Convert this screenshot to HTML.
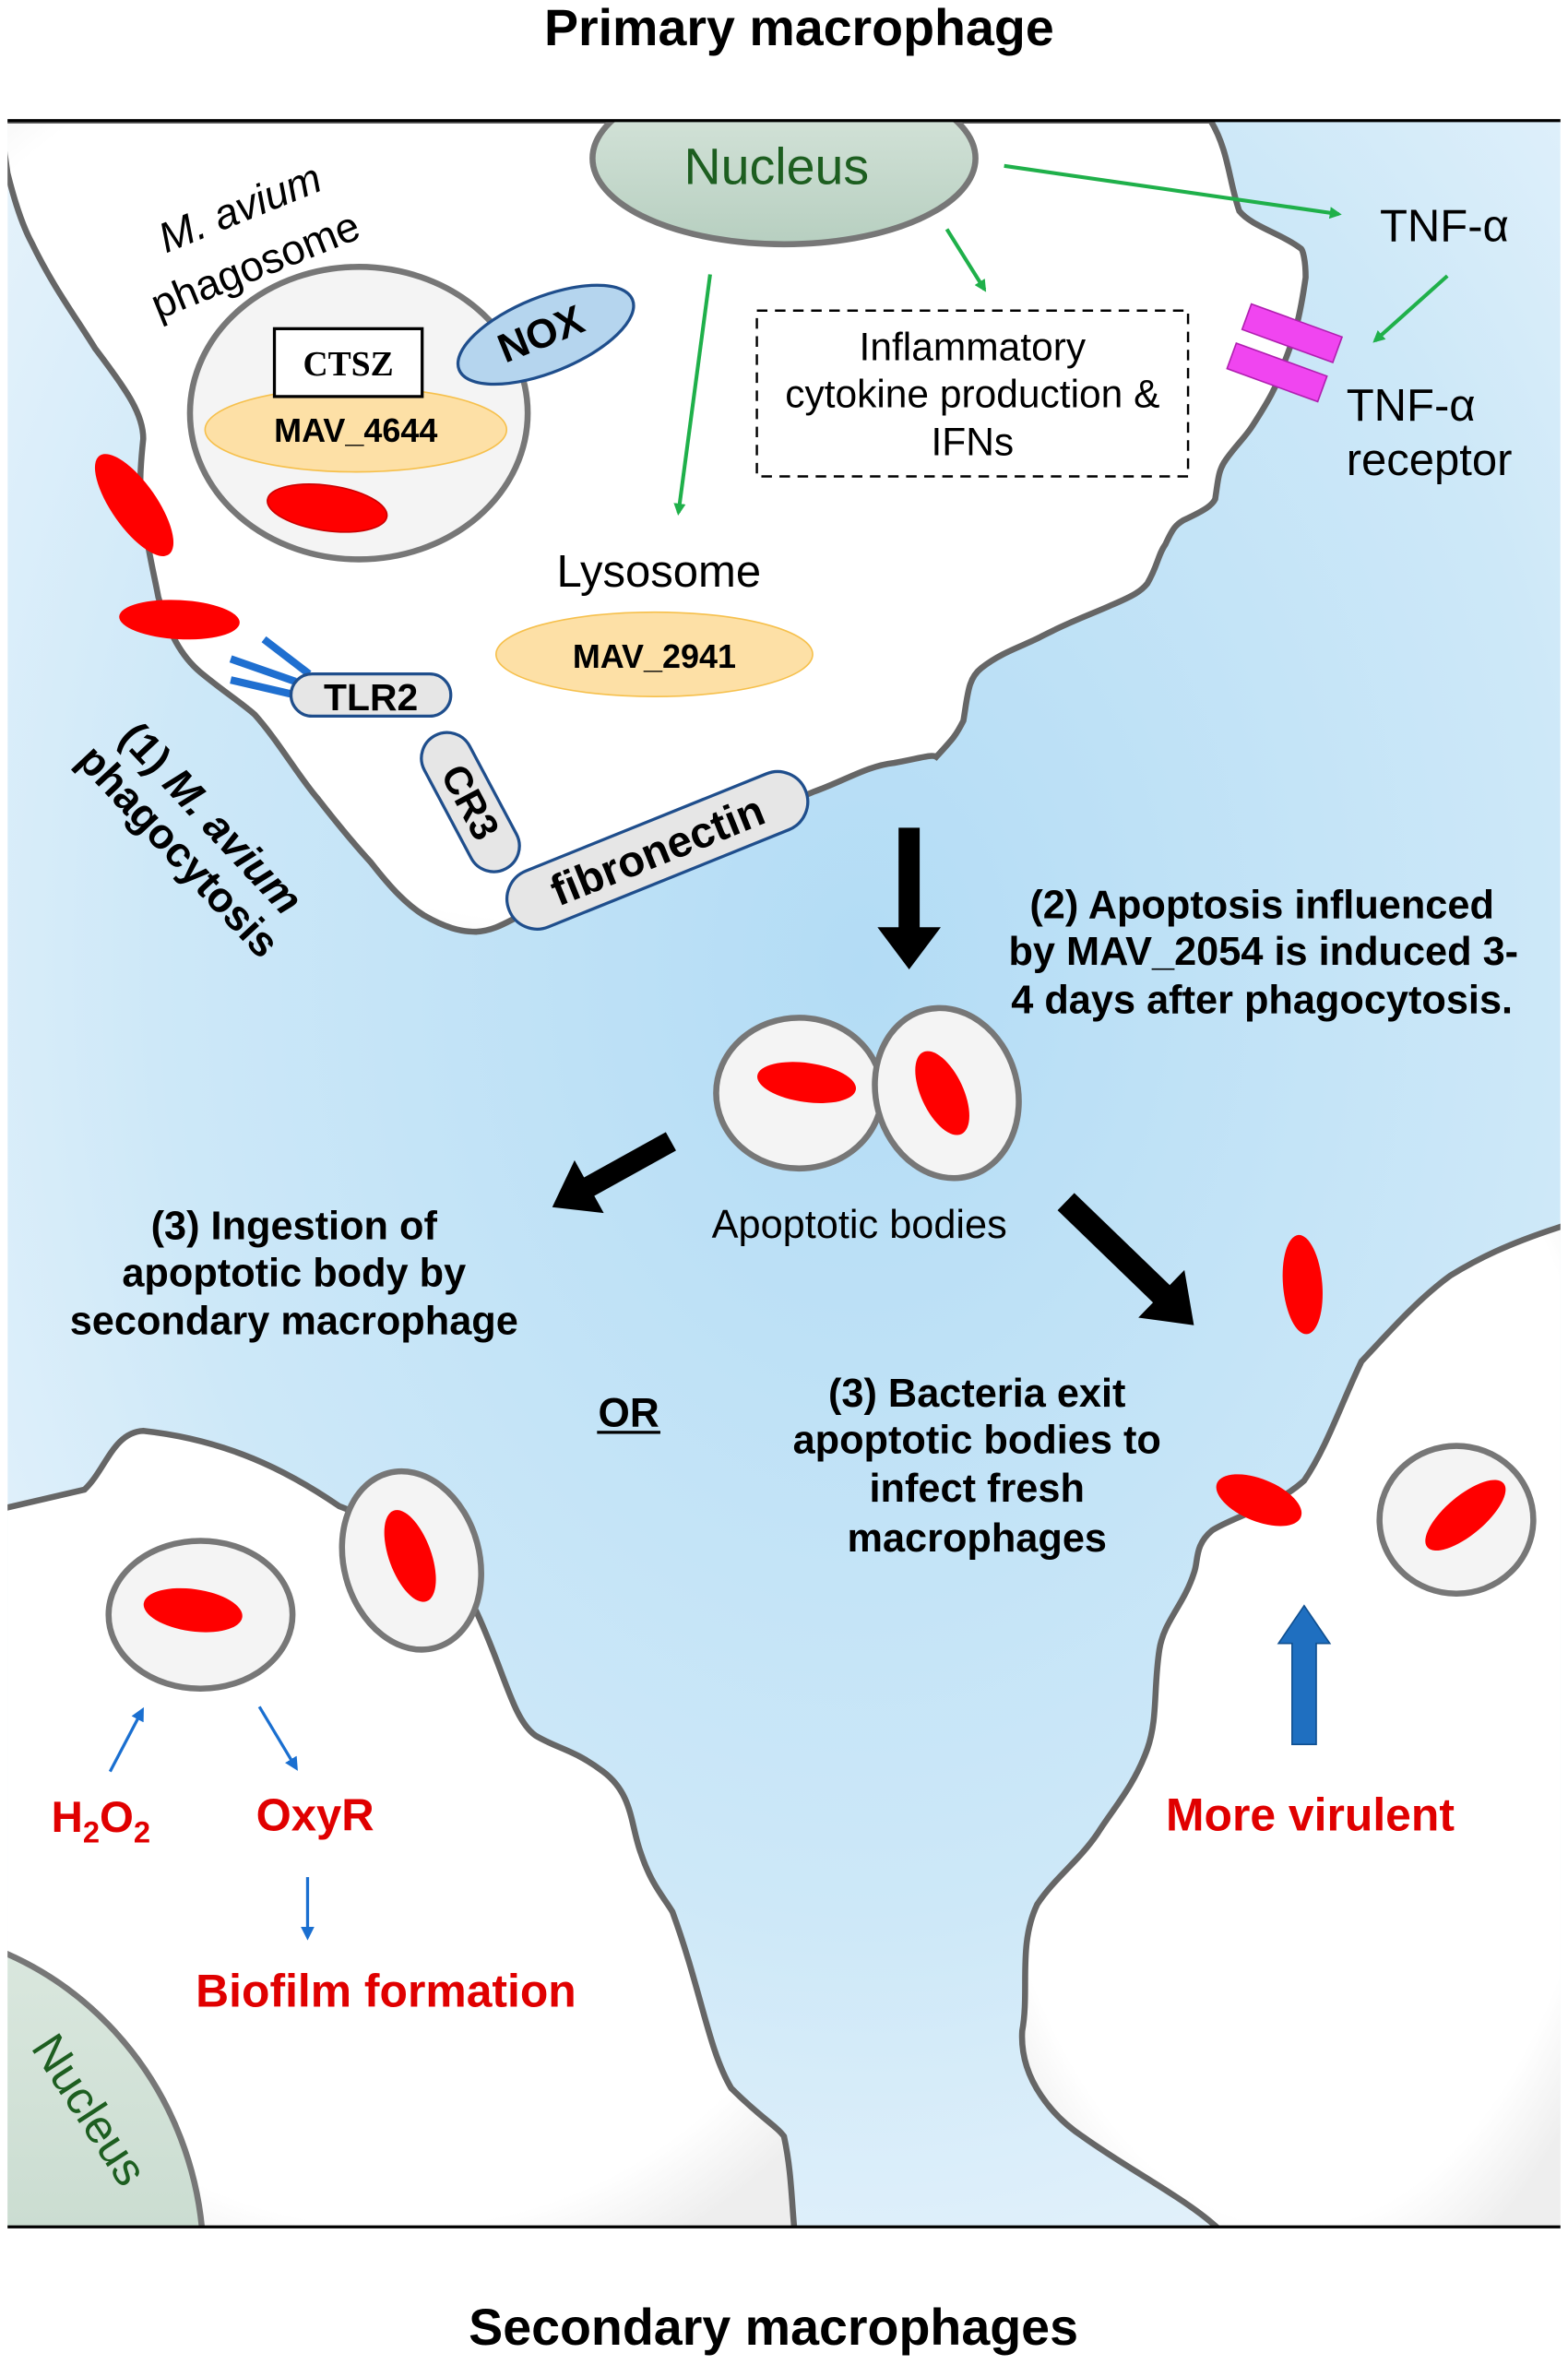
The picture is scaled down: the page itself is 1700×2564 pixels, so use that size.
<!DOCTYPE html>
<html><head><meta charset="utf-8"><style>
html,body{margin:0;padding:0;background:#fff;width:1700px;height:2564px;overflow:hidden}
svg{display:block}
text{font-family:"Liberation Sans",Arial,sans-serif}
</style></head><body>
<svg width="1700" height="2564" viewBox="0 0 1040 1568.6" xmlns="http://www.w3.org/2000/svg">
<defs>
<radialGradient id="bg" cx="0.55" cy="0.4" r="0.75">
<stop offset="0" stop-color="#b3dcf5"/><stop offset="0.6" stop-color="#cde8f8"/><stop offset="1" stop-color="#eef6fc"/>
</radialGradient>
<radialGradient id="cellg" cx="0.5" cy="0.4" r="0.7">
<stop offset="0.85" stop-color="#ffffff"/><stop offset="1" stop-color="#eeeeee"/>
</radialGradient>
<linearGradient id="nuc" x1="0" y1="0" x2="0" y2="1">
<stop offset="0" stop-color="#dbe8df"/><stop offset="1" stop-color="#b7cfc0"/>
</linearGradient>
<marker id="ag" markerWidth="8" markerHeight="8" refX="6" refY="4" orient="auto" markerUnits="userSpaceOnUse"><path d="M0,0 L8,4 L0,8 z" fill="#1fb04a"/></marker>
<marker id="ab" markerWidth="9" markerHeight="9" refX="6" refY="4.5" orient="auto" markerUnits="userSpaceOnUse"><path d="M0,0 L9,4.5 L0,9 z" fill="#1a6fd0"/></marker>
<clipPath id="frame"><rect x="5" y="80" width="1030" height="1397"/></clipPath>
<clipPath id="leftcell"><path d="M0,1001 L56,988 C70,975 75,950 95,949 C150,955 190,975 225,999 C280,1020 300,1040 316,1069 C335,1110 340,1140 355,1151 C370,1160 380,1160 400,1175 C420,1190 418,1210 425,1229 C432,1250 440,1258 446,1268 C465,1320 470,1360 485,1385 C505,1405 515,1410 520,1417 C525,1440 525,1460 527,1480 L0,1480 Z"/></clipPath>
</defs>

<text x="530" y="30" font-size="34" font-weight="bold" text-anchor="middle">Primary macrophage</text>
<text x="513" y="1555" font-size="34" font-weight="bold" text-anchor="middle">Secondary macrophages</text>

<g clip-path="url(#frame)">
<rect x="5" y="80" width="1030" height="1397" fill="url(#bg)"/>
<!-- primary cell -->
<path d="M0,80 L5,115 C10,135 15,150 21,161 C35,190 50,210 63,231 C85,260 95,275 95,291 C93,310 92,325 95,340 C98,365 102,380 105,396 C112,420 120,435 133,446 C150,460 160,466 169,474 C185,492 198,515 211,530 C225,548 235,560 246,572 C260,590 270,600 281,607 C295,615 305,618 316,618 C330,617 338,610 350,605 L540,525 C560,518 575,508 593,506 C610,503 618,500 621,502 C632,490 634,488 639,478 C642,460 642,450 651,443 C665,432 680,428 691,422 C710,412 725,407 738,401 C752,395 757,392 761,387 C768,375 768,368 773,361 C778,350 780,348 785,345 C800,338 804,335 806,331 C808,318 808,312 813,305 C820,295 826,290 831,282 C840,268 848,255 852,240 C858,225 862,212 866,184 C866,172 864,166 863,165 C850,155 830,150 822,140 C815,120 815,100 803,80 Z" fill="url(#cellg)" stroke="#666" stroke-width="4"/>
<!-- nucleus -->
<ellipse cx="520" cy="105" rx="127" ry="57" fill="url(#nuc)" stroke="#777" stroke-width="4"/>
<!-- secondary left -->
<path d="M0,1001 L56,988 C70,975 75,950 95,949 C150,955 190,975 225,999 C280,1020 300,1040 316,1069 C335,1110 340,1140 355,1151 C370,1160 380,1160 400,1175 C420,1190 418,1210 425,1229 C432,1250 440,1258 446,1268 C465,1320 470,1360 485,1385 C505,1405 515,1410 520,1417 C525,1440 525,1460 527,1480 L0,1480 Z" fill="url(#cellg)" stroke="#666" stroke-width="4"/>
<ellipse cx="-80" cy="1500" rx="215" ry="222" fill="url(#nuc)" stroke="#777" stroke-width="4" clip-path="url(#leftcell)"/>
<!-- right cell -->
<path d="M1040,812 L1034,814 C1000,825 980,835 962,846 C940,862 920,885 903,903 C890,930 880,960 865,982 C845,1000 820,1005 804,1015 C792,1025 795,1035 792,1043 C785,1065 772,1075 769,1094 C765,1120 768,1140 761,1160 C752,1185 738,1200 728,1216 C715,1235 700,1245 688,1263 C675,1290 683,1320 678,1347 C676,1380 700,1405 718,1417 C750,1440 790,1460 810,1480 L1040,1480 Z" fill="url(#cellg)" stroke="#666" stroke-width="4"/>
</g>
<line x1="5" y1="80" x2="1035" y2="80" stroke="#000" stroke-width="2"/>
<line x1="5" y1="1477" x2="1035" y2="1477" stroke="#000" stroke-width="2"/>

<text x="515" y="122" font-size="34" fill="#1d5e20" text-anchor="middle">Nucleus</text>
<text transform="translate(20,1358) rotate(57)" font-size="31" fill="#1d5e20">Nucleus</text>

<!-- phagosome -->
<text transform="translate(110,168) rotate(-22)" font-size="28" font-style="italic">M. avium</text>
<text transform="translate(105,212) rotate(-22)" font-size="28">phagosome</text>
<ellipse cx="238" cy="274" rx="112" ry="97" fill="#f4f4f4" stroke="#777" stroke-width="4"/>
<ellipse cx="236" cy="285" rx="100" ry="28" fill="#fde0a6" stroke="#f6c04c" stroke-width="1"/>
<rect x="182" y="218" width="98" height="45" fill="#fff" stroke="#000" stroke-width="2"/>
<text x="231" y="249" font-size="23" font-weight="bold" text-anchor="middle" style="font-family:'Liberation Serif',serif">CTSZ</text>
<text x="236" y="293" font-size="22" font-weight="bold" text-anchor="middle">MAV_4644</text>
<ellipse cx="217" cy="337" rx="40" ry="15" transform="rotate(8 217 337)" fill="#f00" stroke="#c00"/>
<ellipse cx="362" cy="222" rx="62" ry="25" transform="rotate(-22 362 222)" fill="#b5d5ee" stroke="#1f4e8c" stroke-width="2"/>
<text transform="translate(335,241) rotate(-22)" font-size="27" font-weight="bold">NOX</text>

<!-- bacteria outside -->
<ellipse cx="89" cy="335" rx="40" ry="15" transform="rotate(55 89 335)" fill="#f00"/>
<ellipse cx="119" cy="411" rx="40" ry="13" transform="rotate(3 119 411)" fill="#f00"/>
<!-- TLR2 -->
<g stroke="#1f6fd0" stroke-width="5"><line x1="175" y1="424" x2="205" y2="447"/><line x1="153" y1="437" x2="196" y2="452"/><line x1="153" y1="451" x2="196" y2="461"/></g>
<rect x="193" y="447" width="106" height="28" rx="14" fill="#e6e6e6" stroke="#1f4e8c" stroke-width="2"/>
<text x="246" y="471" font-size="25" font-weight="bold" text-anchor="middle">TLR2</text>
<g transform="translate(312,532) rotate(62)"><rect x="-50" y="-17" width="100" height="34" rx="17" fill="#e6e6e6" stroke="#1f4e8c" stroke-width="2"/><text x="0" y="9" font-size="26" font-weight="bold" text-anchor="middle">CR3</text></g>
<g transform="translate(436,564) rotate(-22)"><rect x="-106" y="-20" width="212" height="40" rx="20" fill="#e6e6e6" stroke="#1f4e8c" stroke-width="2"/><text x="0" y="10" font-size="29" font-weight="bold" text-anchor="middle">fibronectin</text></g>
<text transform="translate(78,490) rotate(47)" font-size="28" font-weight="bold">(1) <tspan font-style="italic">M. avium</tspan></text>
<text transform="translate(50,505) rotate(47)" font-size="28" font-weight="bold">phagocytosis</text>

<!-- lysosome -->
<text x="437" y="389" font-size="30" text-anchor="middle">Lysosome</text>
<ellipse cx="434" cy="434" rx="105" ry="28" fill="#fde0a6" stroke="#f6c04c"/>
<text x="434" y="443" font-size="22" font-weight="bold" text-anchor="middle">MAV_2941</text>

<!-- green arrows -->
<g stroke="#1fb04a" stroke-width="2.5" fill="none">
<line x1="471" y1="182" x2="450" y2="340" marker-end="url(#ag)"/>
<line x1="628" y1="152" x2="653" y2="192" marker-end="url(#ag)"/>
<line x1="666" y1="110" x2="888" y2="142" marker-end="url(#ag)"/>
<line x1="960" y1="183" x2="912" y2="226" marker-end="url(#ag)"/>
</g>
<rect x="502" y="206" width="286" height="110" fill="none" stroke="#000" stroke-width="1.5" stroke-dasharray="7,5"/>
<g font-size="26" text-anchor="middle"><text x="645" y="239">Inflammatory</text><text x="645" y="270">cytokine production &amp;</text><text x="645" y="302">IFNs</text></g>
<text x="958" y="160" font-size="30" text-anchor="middle">TNF-α</text>
<g fill="#f045f0" stroke="#b020b0" stroke-width="1"><rect x="-32" y="-9" width="64" height="18" transform="translate(857,221) rotate(20)"/><rect x="-32" y="-9" width="64" height="18" transform="translate(847,247) rotate(20)"/></g>
<text x="893" y="279" font-size="30">TNF-α</text>
<text x="893" y="315" font-size="30">receptor</text>

<!-- big black arrow down -->
<rect x="596" y="549" width="14" height="70" fill="#000"/>
<path d="M582,615 L624,615 L603,643 Z" fill="#000"/>
<g font-size="26.5" font-weight="bold" text-anchor="middle"><text x="837" y="609">(2) Apoptosis influenced</text><text x="838" y="640">by MAV_2054 is induced 3-</text><text x="837" y="672">4 days after phagocytosis.</text></g>

<!-- apoptotic bodies -->
<ellipse cx="530" cy="725" rx="55" ry="50" fill="#f4f4f4" stroke="#777" stroke-width="4"/>
<ellipse cx="628" cy="725" rx="47" ry="57" transform="rotate(-15 628 725)" fill="#f4f4f4" stroke="#777" stroke-width="4"/>
<ellipse cx="535" cy="718" rx="33" ry="13" transform="rotate(8 535 718)" fill="#f00"/>
<ellipse cx="625" cy="725" rx="14" ry="30" transform="rotate(-25 625 725)" fill="#f00"/>
<text x="570" y="821" font-size="26.5" text-anchor="middle">Apoptotic bodies</text>

<!-- black diagonal arrows -->
<g fill="#000">
<path transform="translate(445,757) rotate(151)" d="M0,-7 L62,-7 L62,-20 L90,0 L62,20 L62,7 L0,7 Z"/>
<path transform="translate(707,797) rotate(44)" d="M0,-8 L88,-8 L88,-22 L118,0 L88,22 L88,8 L0,8 Z"/>
</g>
<g font-size="26.5" font-weight="bold" text-anchor="middle"><text x="195" y="822">(3) Ingestion of</text><text x="195" y="853">apoptotic body by</text><text x="195" y="885">secondary macrophage</text></g>
<text x="417" y="946" font-size="27" font-weight="bold" text-anchor="middle">OR</text>
<line x1="396" y1="950" x2="438" y2="950" stroke="#000" stroke-width="2"/>
<g font-size="26.5" font-weight="bold" text-anchor="middle"><text x="648" y="933">(3) Bacteria exit</text><text x="648" y="964">apoptotic bodies to</text><text x="648" y="996">infect fresh</text><text x="648" y="1029">macrophages</text></g>

<!-- right cell items -->
<ellipse cx="864" cy="852" rx="13" ry="33" transform="rotate(-5 864 852)" fill="#f00"/>
<ellipse cx="835" cy="995" rx="30" ry="14" transform="rotate(22 835 995)" fill="#f00"/>
<ellipse cx="966" cy="1008" rx="51" ry="49" fill="#f4f4f4" stroke="#777" stroke-width="4"/>
<ellipse cx="972" cy="1005" rx="13" ry="33" transform="rotate(50 972 1005)" fill="#f00"/>
<path d="M857,1157 L857,1090 L848,1090 L865,1065 L882,1090 L873,1090 L873,1157 Z" fill="#1f6fc0" stroke="#0f4f90"/>
<text x="869" y="1214" font-size="30.5" font-weight="bold" fill="#e00000" text-anchor="middle">More virulent</text>

<!-- left secondary items -->
<ellipse cx="133" cy="1071" rx="61" ry="49" fill="#f4f4f4" stroke="#777" stroke-width="4"/>
<ellipse cx="128" cy="1068" rx="33" ry="14" transform="rotate(8 128 1068)" fill="#f00"/>
<ellipse cx="273" cy="1035" rx="45" ry="60" transform="rotate(-15 273 1035)" fill="#f4f4f4" stroke="#777" stroke-width="4"/>
<ellipse cx="272" cy="1032" rx="14" ry="32" transform="rotate(-20 272 1032)" fill="#f00"/>
<g stroke="#1a6fd0" stroke-width="2" fill="none">
<line x1="73" y1="1175" x2="94" y2="1135" marker-end="url(#ab)"/>
<line x1="172" y1="1132" x2="196" y2="1172" marker-end="url(#ab)"/>
<line x1="204" y1="1245" x2="204" y2="1284" marker-end="url(#ab)"/>
</g>
<text x="34" y="1215" font-size="29" font-weight="bold" fill="#e00000">H<tspan font-size="20" dy="7">2</tspan><tspan dy="-7">O</tspan><tspan font-size="20" dy="7">2</tspan></text>
<text x="209" y="1214" font-size="30" font-weight="bold" fill="#e00000" text-anchor="middle">OxyR</text>
<text x="256" y="1331" font-size="30.5" font-weight="bold" fill="#e00000" text-anchor="middle">Biofilm formation</text>
</svg>
</body></html>
